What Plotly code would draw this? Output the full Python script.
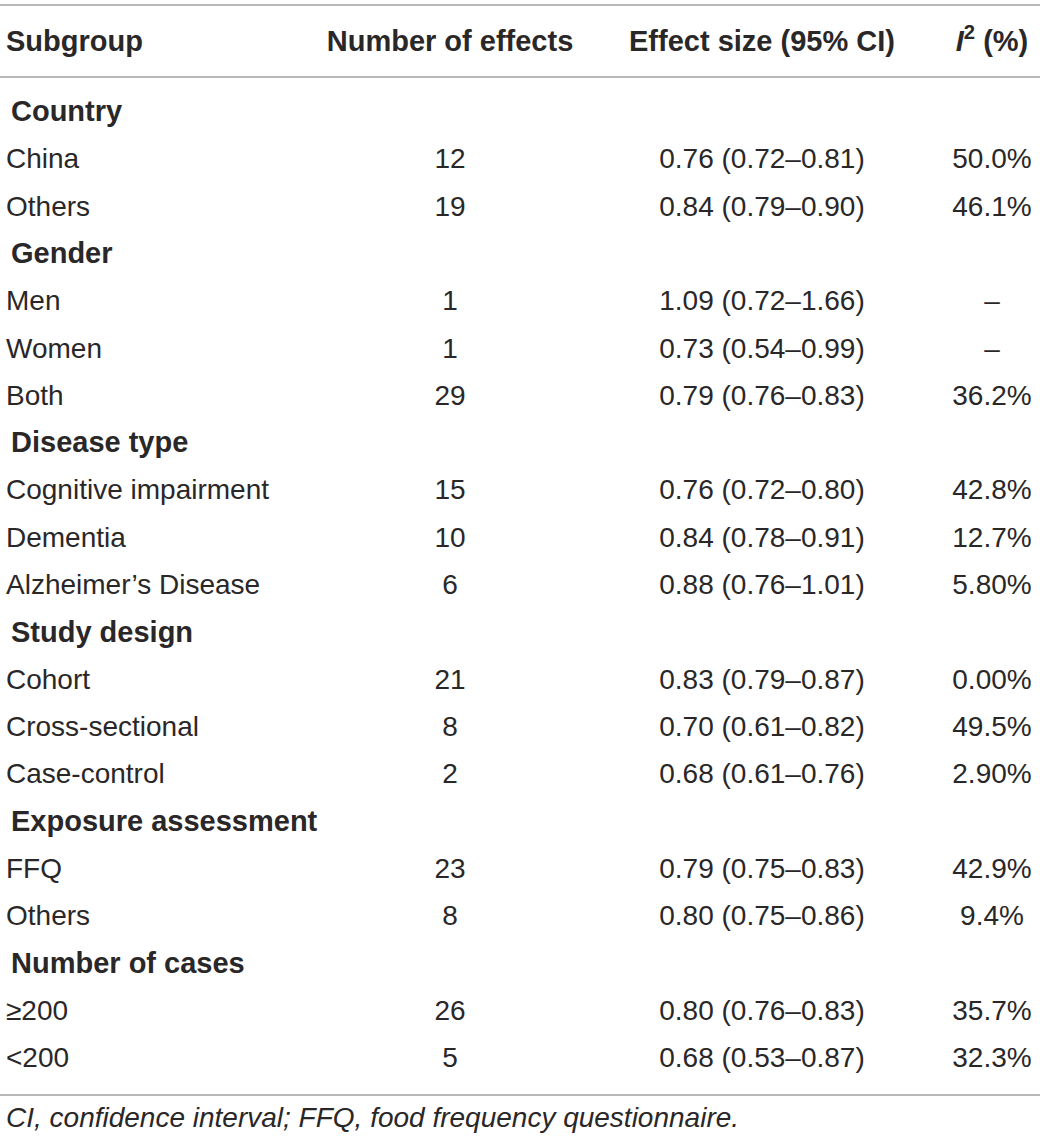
import plotly.graph_objects as go

# ---- data ----
header = ["Subgroup", "Number of effects", "Effect size (95% CI)", "I2 (%)"]
groups = ["Country", "Gender", "Disease type", "Study design", "Exposure assessment", "Number of cases"]
subgroups = [
    ["China", "Others"],
    ["Men", "Women", "Both"],
    ["Cognitive impairment", "Dementia", "Alzheimer’s Disease"],
    ["Cohort", "Cross-sectional", "Case-control"],
    ["FFQ", "Others"],
    ["≥200", "<200"],
]
n_effects = [
    [12, 19],
    [1, 1, 29],
    [15, 10, 6],
    [21, 8, 2],
    [23, 8],
    [26, 5],
]
effect_sizes = [
    ["0.76 (0.72–0.81)", "0.84 (0.79–0.90)"],
    ["1.09 (0.72–1.66)", "0.73 (0.54–0.99)", "0.79 (0.76–0.83)"],
    ["0.76 (0.72–0.80)", "0.84 (0.78–0.91)", "0.88 (0.76–1.01)"],
    ["0.83 (0.79–0.87)", "0.70 (0.61–0.82)", "0.68 (0.61–0.76)"],
    ["0.79 (0.75–0.83)", "0.80 (0.75–0.86)"],
    ["0.80 (0.76–0.83)", "0.68 (0.53–0.87)"],
]
i2 = [
    ["50.0%", "46.1%"],
    ["–", "–", "36.2%"],
    ["42.8%", "12.7%", "5.80%"],
    ["0.00%", "49.5%", "2.90%"],
    ["42.9%", "9.4%"],
    ["35.7%", "32.3%"],
]
footnote = "CI, confidence interval; FFQ, food frequency questionnaire."

# ---- layout constants ----
W, H = 1040, 1143
FONT = "Liberation Sans, Arial, sans-serif"
TXT = "#2a2728"
FS = 28
FSB = 29
X_LEFT = 6
X_GROUP = 11
X_N = 450
X_ES = 762
X_I2 = 992
HEADER_Y = 44
ROW0_Y = 114
STEP = 47.3
LINE_COLOR = "#a0a0a0"

fig = go.Figure()

# header
fig.add_trace(go.Scatter(x=[X_LEFT], y=[HEADER_Y], mode="text", text=["<b>" + header[0] + "</b>"],
                         textposition="middle right", textfont=dict(family=FONT, size=FSB, color=TXT),
                         hoverinfo="skip", showlegend=False))
fig.add_trace(go.Scatter(x=[X_N, X_ES, X_I2], y=[HEADER_Y] * 3, mode="text",
                         text=["<b>" + header[1] + "</b>", "<b>" + header[2] + "</b>",
                               "<b><i>I</i><sup>2</sup> (%)</b>"],
                         textposition="middle center", textfont=dict(family=FONT, size=FSB, color=TXT),
                         hoverinfo="skip", showlegend=False))

# rows
gx, gy, gt = [], [], []
lx, ly, lt = [], [], []
cx, cy, ct = [], [], []
r = 0
for g, subs, ns, es, ii in zip(groups, subgroups, n_effects, effect_sizes, i2):
    y = ROW0_Y + r * STEP
    gx.append(X_GROUP); gy.append(y); gt.append("<b>" + g + "</b>")
    r += 1
    for s, n, e, v in zip(subs, ns, es, ii):
        y = ROW0_Y + r * STEP
        lx.append(X_LEFT); ly.append(y); lt.append(s)
        cx += [X_N, X_ES, X_I2]; cy += [y] * 3; ct += [str(n), e, v]
        r += 1
last_y = ROW0_Y + (r - 1) * STEP

fig.add_trace(go.Scatter(x=gx, y=gy, mode="text", text=gt, textposition="middle right",
                         textfont=dict(family=FONT, size=FSB, color=TXT), hoverinfo="skip", showlegend=False))
fig.add_trace(go.Scatter(x=lx, y=ly, mode="text", text=lt, textposition="middle right",
                         textfont=dict(family=FONT, size=FS, color=TXT), hoverinfo="skip", showlegend=False))
fig.add_trace(go.Scatter(x=cx, y=cy, mode="text", text=ct, textposition="middle center",
                         textfont=dict(family=FONT, size=FS, color=TXT), hoverinfo="skip", showlegend=False))

# footnote
fig.add_trace(go.Scatter(x=[X_LEFT], y=[last_y + 60], mode="text", text=["<i>" + footnote + "</i>"],
                         textposition="middle right", textfont=dict(family=FONT, size=FS, color=TXT),
                         hoverinfo="skip", showlegend=False))

# rules
for yl in [5, 77, last_y + 35]:
    fig.add_shape(type="line", x0=0, x1=W, y0=yl, y1=yl, xref="x", yref="y",
                  line=dict(color=LINE_COLOR, width=1.5))

fig.update_layout(
    width=W, height=H, margin=dict(l=0, r=0, t=0, b=0),
    paper_bgcolor="white", plot_bgcolor="white",
    xaxis=dict(range=[0, W], visible=False, fixedrange=True),
    yaxis=dict(range=[H, 0], visible=False, fixedrange=True),
)
fig.write_html("out.html", config={"displayModeBar": False},
               post_script="document.body.style.margin='0';document.body.style.overflow='hidden';")
